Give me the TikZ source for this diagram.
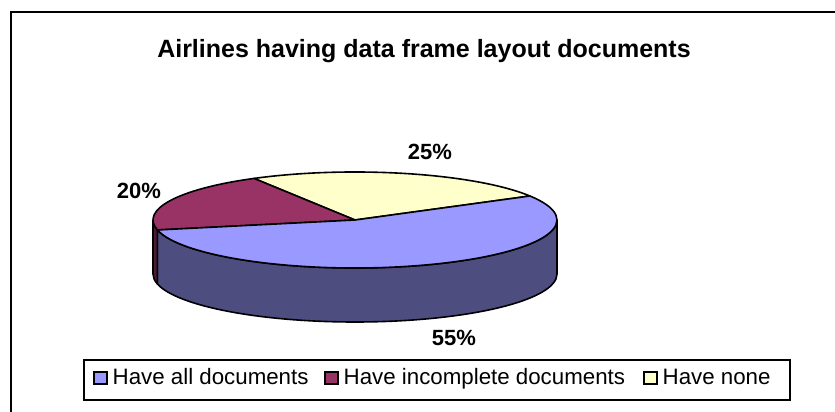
\documentclass[tikz,border=0pt]{standalone}
\usepackage{fontspec}
\setmainfont{Liberation Sans}
\definecolor{bluetop}{HTML}{9999FF}
\definecolor{blueside}{HTML}{4D4D80}
\definecolor{maroontop}{HTML}{993366}
\definecolor{maroonside}{HTML}{4D1A33}
\definecolor{yellowtop}{HTML}{FFFFCC}
\begin{document}
\begin{tikzpicture}[x=1pt,y=1pt,
  edge/.style={draw=black,line width=1.6pt,line join=round},
  pct/.style={font=\bfseries\fontsize{22}{26}\selectfont,inner sep=0pt},
  legtext/.style={font=\fontsize{22.3}{26}\selectfont,anchor=base west,inner sep=0pt},
  swatch/.style={draw=black,line width=1.6pt,minimum width=13pt,minimum height=12pt,inner sep=0pt}]
\useasboundingbox (0,0) rectangle (835,412);
\clip (0,0) rectangle (835,412);
% chart frame (right and bottom sides lie outside the picture)
\draw[line width=2pt] (11,400) rectangle (860,-30);
% pie
\coordinate (C) at (355,192);
\filldraw[fill=blueside,edge] (C) ++(192:202 and 48)
  arc[start angle=192,end angle=360,x radius=202,y radius=48] -- ++(0,-54)
  arc[start angle=360,end angle=192,x radius=202,y radius=48] -- cycle;
\filldraw[fill=maroonside,edge] (C) ++(180:202 and 48)
  arc[start angle=180,end angle=192,x radius=202,y radius=48] -- ++(0,-54)
  arc[start angle=192,end angle=180,x radius=202,y radius=48] -- cycle;
\filldraw[fill=yellowtop,edge] (C) -- ++(30:202 and 48)
  arc[start angle=30,end angle=120,x radius=202,y radius=48] -- cycle;
\filldraw[fill=maroontop,edge] (C) -- ++(120:202 and 48)
  arc[start angle=120,end angle=192,x radius=202,y radius=48] -- cycle;
\filldraw[fill=bluetop,edge] (C) -- ++(192:202 and 48)
  arc[start angle=192,end angle=390,x radius=202,y radius=48] -- cycle;
% title and labels
\node[font=\bfseries\fontsize{25}{29}\selectfont,inner sep=0pt] (title) at (424,360.5) {Airlines having data frame layout documents};
\node[pct] (l25) at (430,260.5) {25\%};
\node[pct] (l20) at (139,221.5) {20\%};
\node[pct] (l55) at (454,74) {55\%};
% legend
\node[draw=black,line width=1.6pt,minimum width=706pt,minimum height=40pt,inner sep=0pt] (legend) at (437,32) {};
\node[swatch,fill=bluetop] (sw1) at (100.5,34) {};
\node[legtext] (t1) at (112.5,27) {Have all documents};
\node[swatch,fill=maroontop] (sw2) at (331.5,34) {};
\node[legtext] (t2) at (343.5,27) {Have incomplete documents};
\node[swatch,fill=yellowtop] (sw3) at (650.5,34) {};
\node[legtext] (t3) at (662.5,27) {Have none};
\end{tikzpicture}
\end{document}
